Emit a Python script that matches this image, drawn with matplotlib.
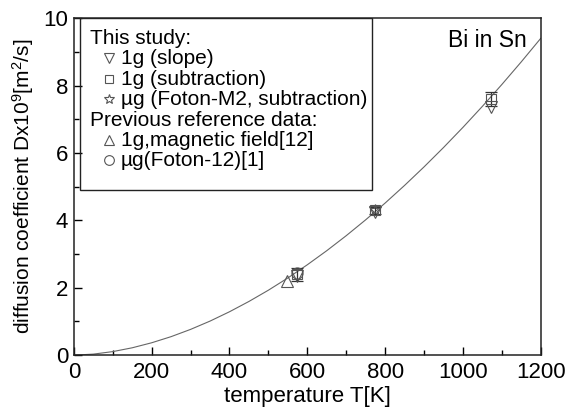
import numpy as np
import matplotlib.pyplot as plt
from matplotlib.patches import Rectangle
from matplotlib.ticker import MultipleLocator

plt.rcParams['font.family'] = ['Liberation Sans', 'DejaVu Sans']
plt.rcParams['mathtext.fontset'] = 'custom'
plt.rcParams['mathtext.rm'] = 'Liberation Sans'
plt.rcParams['mathtext.it'] = 'Liberation Sans:italic'

# fitted curve
curve_T = [0, 50, 100, 150, 200, 250, 300, 350, 400, 450, 500, 550, 600,
           650, 700, 750, 800, 850, 900, 950, 1000, 1050, 1100, 1150, 1200]
curve_D = [0.0, 0.03, 0.105, 0.218, 0.367, 0.549, 0.764, 1.01, 1.287, 1.593,
           1.927, 2.29, 2.681, 3.099, 3.544, 4.015, 4.512, 5.036, 5.585,
           6.159, 6.758, 7.382, 8.03, 8.703, 9.4]

# this study
slope_T = [573, 773, 1073]
slope_D = [2.35, 4.25, 7.35]
subtr_T = [573, 773, 1073]
subtr_D = [2.4, 4.3, 7.6]
subtr_err = [0.2, 0.1, 0.22]
ug_T = [773]
ug_D = [4.3]
# previous reference data
mag_T = [548]
mag_D = [2.2]
foton_T = [573]
foton_D = [2.45]

ec = '#555555'

fig, ax = plt.subplots(figsize=(5.68, 4.12), dpi=100)
fig.subplots_adjust(left=0.130, right=0.952, bottom=0.138, top=0.956)

ax.plot(curve_T, curve_D, color='#666666', lw=0.8)
ax.errorbar(subtr_T, subtr_D, yerr=subtr_err, fmt='none', ecolor='#333333',
            elinewidth=0.9, capsize=4, capthick=0.9)
mk = dict(mfc='none', mec=ec, mew=0.8, ls='none')
ax.plot(slope_T, slope_D, marker='v', ms=8, **mk)
ax.plot(subtr_T, subtr_D, marker='s', ms=7, **mk)
ax.plot(ug_T, ug_D, marker='*', ms=8, **mk)
ax.plot(mag_T, mag_D, marker='^', ms=9, **mk)
ax.plot(foton_T, foton_D, marker='o', ms=8, **mk)

ax.set_xlim(0, 1200)
ax.set_ylim(0, 10)
ax.xaxis.set_major_locator(MultipleLocator(200))
ax.xaxis.set_minor_locator(MultipleLocator(100))
ax.yaxis.set_major_locator(MultipleLocator(2))
ax.yaxis.set_minor_locator(MultipleLocator(1))
ax.tick_params(which='both', direction='in', top=False, right=False,
               labelsize=16, width=1)
ax.tick_params(axis='x', pad=5)
ax.tick_params(axis='y', pad=4)
ax.tick_params(which='major', length=6)
ax.tick_params(which='minor', length=3.5)
for s in ax.spines.values():
    s.set_linewidth(1.1)
    s.set_color('#222222')

ax.set_xlabel('temperature T[K]', fontsize=16, labelpad=2)
ax.set_ylabel('diffusion coefficient Dx10$^9$[m$^2$/s]', fontsize=15, labelpad=5)

ax.text(0.97, 0.935, 'Bi in Sn', transform=ax.transAxes, ha='right',
        va='center', fontsize=16.5)

# hand-made legend box
ax.add_patch(Rectangle((0.013, 0.49), 0.625, 0.51, transform=ax.transAxes,
                       fill=False, lw=1.0, ec='#222222', zorder=5))
rows = [
    (None, 'This study:'),
    ('v', '1g (slope)'),
    ('s', '1g (subtraction)'),
    ('*', 'µg (Foton-M2, subtraction)'),
    (None, 'Previous reference data:'),
    ('^', '1g,magnetic field[12]'),
    ('o', 'µg(Foton-12)[1]'),
]
row_y = [38, 58, 79, 99, 120, 140, 160]
for (m, label), py in zip(rows, row_y):
    y = (355 - py) / 337
    if m is None:
        ax.text(0.034, y, label, transform=ax.transAxes, va='center', fontsize=15)
    else:
        ax.plot([0.075], [y], marker=m, ms=7 if m != 's' else 6,
                transform=ax.transAxes, clip_on=False, **mk)
        ax.text(0.1, y, label, transform=ax.transAxes, va='center', fontsize=15)

fig.savefig('out.png', dpi=100)
